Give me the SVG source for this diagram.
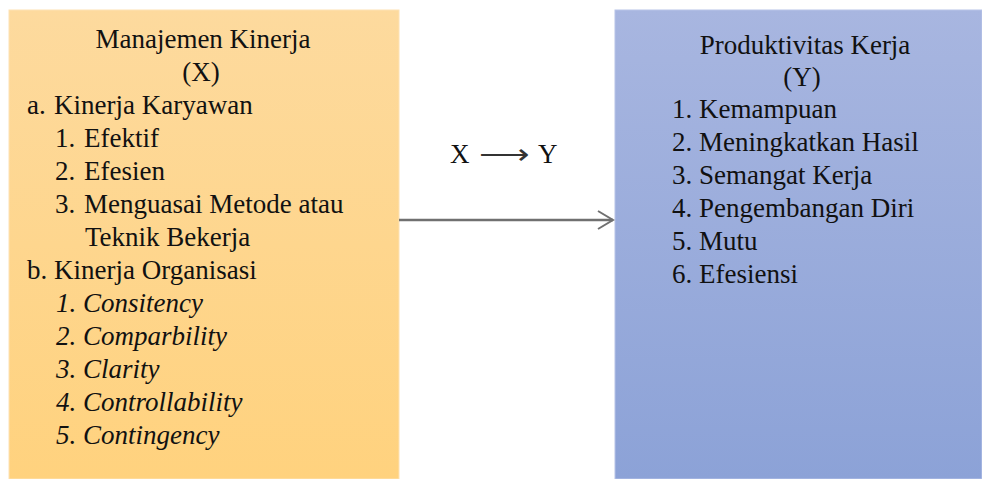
<svg xmlns="http://www.w3.org/2000/svg" width="982" height="479" viewBox="0 0 982 479">
<defs>
<linearGradient id="gOrange" x1="0" y1="0" x2="0" y2="1">
<stop offset="0" stop-color="#FDDA9E"/>
<stop offset="1" stop-color="#FFD27E"/>
</linearGradient>
<linearGradient id="gBlue" x1="0" y1="0" x2="0" y2="1">
<stop offset="0" stop-color="#A8B6E0"/>
<stop offset="1" stop-color="#8CA2D7"/>
</linearGradient>
<marker id="open" markerWidth="20" markerHeight="24" refX="16" refY="10" orient="auto" markerUnits="userSpaceOnUse" viewBox="0 0 20 24">
<path d="M1,1 L16,10 L1,19" fill="none" stroke="#707070" stroke-width="2"/>
</marker>
<style>
text{font-family:"Liberation Serif","Times New Roman",serif;font-size:27px;fill:#111}
.c{text-anchor:middle}
.i{font-style:italic}
</style>
</defs>
<rect width="982" height="479" fill="#ffffff"/>
<g id="node-x">
<rect x="9" y="10" width="390" height="469" fill="url(#gOrange)" stroke="#FDE2B4" stroke-width="1"/>
<text class="c" x="203" y="48">Manajemen Kinerja</text>
<text class="c" x="201" y="81">(X)</text>
<text x="27" y="114">a.</text><text x="54" y="114">Kinerja Karyawan</text>
<text x="55" y="147">1.</text><text x="84" y="147">Efektif</text>
<text x="55" y="180">2.</text><text x="84" y="180">Efesien</text>
<text x="55" y="213">3.</text><text x="84" y="213">Menguasai Metode atau</text>
<text x="85" y="246">Teknik Bekerja</text>
<text x="27" y="279">b.</text><text x="54" y="279">Kinerja Organisasi</text>
<text class="i" x="56" y="312">1.</text><text class="i" x="83" y="312">Consitency</text>
<text class="i" x="56" y="345">2.</text><text class="i" x="83" y="345">Comparbility</text>
<text class="i" x="56" y="378">3.</text><text class="i" x="83" y="378">Clarity</text>
<text class="i" x="56" y="411">4.</text><text class="i" x="83" y="411">Controllability</text>
<text class="i" x="56" y="444">5.</text><text class="i" x="83" y="444">Contingency</text>
</g>
<g id="node-y">
<rect x="615" y="10" width="367" height="469" fill="url(#gBlue)" stroke="#B8C4E8" stroke-width="1"/>
<text class="c" x="805" y="54">Produktivitas Kerja</text>
<text class="c" x="802" y="86">(Y)</text>
<text x="672" y="118">1.</text><text x="699" y="118">Kemampuan</text>
<text x="672" y="151">2.</text><text x="699" y="151">Meningkatkan Hasil</text>
<text x="672" y="184">3.</text><text x="699" y="184">Semangat Kerja</text>
<text x="672" y="217">4.</text><text x="699" y="217">Pengembangan Diri</text>
<text x="672" y="250">5.</text><text x="699" y="250">Mutu</text>
<text x="672" y="283">6.</text><text x="699" y="283">Efesiensi</text>
</g>
<g id="label-xy">
<text x="450" y="163">X</text>
<text x="479" y="163" textLength="51" lengthAdjust="spacingAndGlyphs" style="fill:#333">⟶</text>
<text x="538" y="163">Y</text>
</g>
<g id="connectors">
<line x1="399" y1="220" x2="613" y2="220" stroke="#707070" stroke-width="2.5" marker-end="url(#open)"/>
</g>
</svg>
